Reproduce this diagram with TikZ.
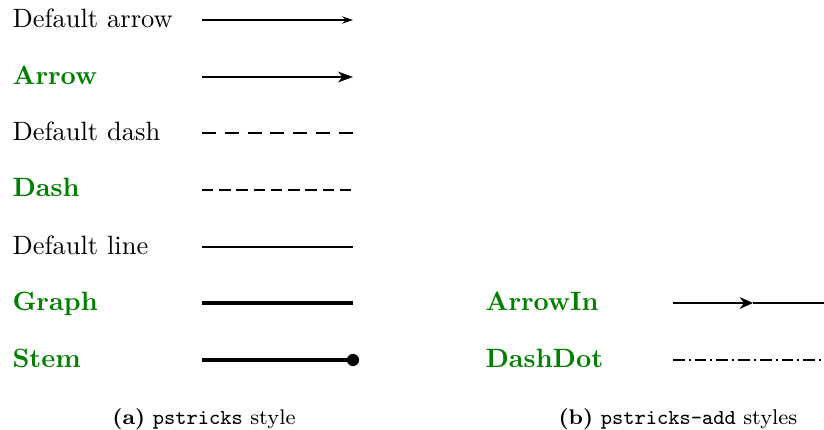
\documentclass[tikz,border=0pt]{standalone}
\usetikzlibrary{arrows.meta}
\definecolor{lblgreen}{rgb}{0,0.5,0}
\begin{document}
\begin{tikzpicture}[x=0.3774pt,y=-0.3774pt,
  lbl/.style={anchor=base west,inner sep=0pt,font=\normalsize},
  glbl/.style={lbl,text=lblgreen,font=\normalsize\bfseries},
  captext/.style={anchor=base,inner sep=0pt,font=\footnotesize},
  thinline/.style={line width=0.6pt},
  medline/.style={line width=0.85pt},
  thickline/.style={line width=1.3pt}]
\useasboundingbox (0,0) rectangle (824,430);
% labels left
\node[lbl]  (l1) at (12,28)  {Default arrow};
\node[glbl] (l2) at (12,85)  {Arrow};
\node[lbl]  (l3) at (12,141) {Default dash};
\node[glbl] (l4) at (12,197) {Dash};
\node[lbl]  (l5) at (12,255) {Default line};
\node[glbl] (l6) at (12,311) {Graph};
\node[glbl] (l7) at (12,368) {Stem};
% labels right
\node[glbl] (r1) at (485,311) {ArrowIn};
\node[glbl] (r2) at (485,368) {DashDot};
% endpoints
\coordinate (a1) at (202,20);  \coordinate (b1) at (353,20);
\coordinate (a2) at (202,77);  \coordinate (b2) at (353,77);
\coordinate (a3) at (202,133); \coordinate (b3) at (353,133);
\coordinate (a4) at (202,190); \coordinate (b4) at (353,190);
\coordinate (a5) at (202,247); \coordinate (b5) at (353,247);
\coordinate (a6) at (202,303); \coordinate (b6) at (353,303);
\coordinate (a7) at (202,360); \coordinate (b7) at (353,360);
\coordinate (c1) at (673,303); \coordinate (m1) at (753,303); \coordinate (d1) at (826,303);
\coordinate (c2) at (673,360); \coordinate (d2) at (826,360);
% lines
\draw[thinline,-{Stealth[length=4.2pt,width=2.8pt,inset=1.6pt]}] (a1) -- (b1);
\draw[medline,-{Stealth[length=5.6pt,width=4pt,inset=1.6pt]}] (a2) -- (b2);
\draw[medline,dash pattern=on 5.3pt off 3.3pt] (a3) -- (b3);
\draw[medline,dash pattern=on 4.3pt off 2.2pt] (a4) -- (b4);
\draw[thinline] (a5) -- (b5);
\draw[thickline] (a6) -- (b6);
\draw[thickline] (a7) -- (b7);
\fill (b7) circle (2.3pt);
\draw[medline,-{Stealth[length=5pt,width=4.4pt,inset=1.6pt]}] (c1) -- (m1);
\draw[medline] (m1) -- (d1);
\draw[medline,dash pattern=on 4.4pt off 1.5pt on 0.8pt off 1.5pt] (c2) -- (d2);
% captions
\node[captext] (ca) at (204,425) {\textbf{(a)} \texttt{pstricks} style};
\node[captext] (cb) at (678,425) {\textbf{(b)} \texttt{pstricks-add} styles};
\end{tikzpicture}
\end{document}
